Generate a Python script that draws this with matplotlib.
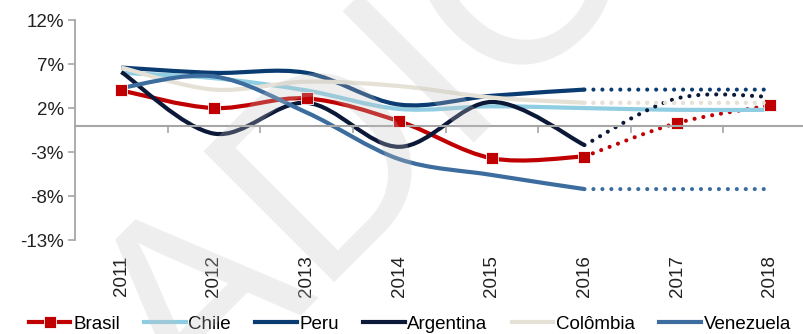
import numpy as np
import matplotlib
matplotlib.use("Agg")
import matplotlib.pyplot as plt
from matplotlib.path import Path
from matplotlib.patches import PathPatch
from matplotlib.lines import Line2D

plt.rcParams['font.family'] = ['Liberation Sans', 'DejaVu Sans']

years = ['2011', '2012', '2013', '2014', '2015', '2016', '2017', '2018']
# realised (solid) and projected (dotted) GDP growth, %
brasil = [4.0, 2.0, 3.1, 0.5, -3.7, -3.5]
brasil_proj = [-3.5, 0.3, 2.3]
chile = [6.0, 5.4, 4.0, 1.9, 2.2, 2.0, 1.8, 1.8]
peru = [6.6, 6.0, 6.0, 2.4, 3.4, 4.1]
peru_proj = [4.1, 4.1, 4.1]
argentina = [6.1, -0.9, 2.6, -2.4, 2.7, -2.2]
argentina_proj = [-2.2, 3.1, 3.3]
colombia = [6.6, 4.1, 5.0, 4.5, 3.2, 2.6]
colombia_proj = [2.6, 2.6, 2.6]
venezuela = [4.3, 5.6, 1.5, -3.8, -5.6, -7.2]
venezuela_proj = [-7.2, -7.2, -7.2]

names = ['Brasil', 'Chile', 'Peru', 'Argentina', 'Colômbia', 'Venezuela']
colors = ['#C00000', '#8FCDE2', '#0A3C72', '#0B1838', '#E6E1D6', '#3C6D9E']

yticks = [-13, -8, -3, 2, 7, 12]


def smooth(xs, ys):
    # excel style smoothed line (catmull-rom -> bezier)
    verts = [(xs[0], ys[0])]
    codes = [Path.MOVETO]
    n = len(xs)
    for i in range(n - 1):
        a = max(i - 1, 0)
        b = min(i + 2, n - 1)
        c1 = (xs[i] + (xs[i + 1] - xs[a]) / 6.0, ys[i] + (ys[i + 1] - ys[a]) / 6.0)
        c2 = (xs[i + 1] - (xs[b] - xs[i]) / 6.0, ys[i + 1] - (ys[b] - ys[i]) / 6.0)
        verts += [c1, c2, (xs[i + 1], ys[i + 1])]
        codes += [Path.CURVE4] * 3
    return Path(verts, codes)


fig = plt.figure(figsize=(8.04, 3.34), dpi=100)
ax = fig.add_axes([0.0933, 0.281, 0.9067, 0.659])
ax.patch.set_alpha(0)

x = np.arange(len(years))
dots = (0, (0.001, 2.15))

series = [
    (brasil, brasil_proj),
    (chile, None),
    (peru, peru_proj),
    (argentina, argentina_proj),
    (colombia, colombia_proj),
    (venezuela, venezuela_proj),
]

for (vals, proj), c in zip(series, colors):
    n = len(vals)
    ax.add_patch(PathPatch(smooth(list(x[:n]), vals), fill=False, edgecolor=c,
                           lw=3, capstyle='butt', joinstyle='round'))
    if proj is not None:
        px = list(x[n - 1:n - 1 + len(proj)])
        ax.add_patch(PathPatch(smooth(px, proj), fill=False, edgecolor=c,
                               lw=3, linestyle=dots, capstyle='round'))

# brasil markers
ax.plot(x[:len(brasil)], brasil, ls='none', marker='s', ms=8, color=colors[0],
        mec='white', mew=0.6, zorder=3)
ax.plot(x[len(brasil):], brasil_proj[1:], ls='none', marker='s', ms=8,
        color=colors[0], mec='white', mew=0.6, zorder=1.5)
# colombia projection again on top of brasil marker
ax.add_patch(PathPatch(smooth(list(x[5:8]), colombia_proj), fill=False,
                       edgecolor=colors[4], lw=3, linestyle=dots,
                       capstyle='round', zorder=2))

ax.set_xlim(-0.5, 7.37)
ax.set_ylim(-13, 12)

for s in ['top', 'right']:
    ax.spines[s].set_visible(False)
ax.spines['left'].set_color('#A6A6A6')
ax.spines['left'].set_linewidth(1.3)
ax.spines['bottom'].set_position(('data', 0))
ax.spines['bottom'].set_color('#A6A6A6')
ax.spines['bottom'].set_linewidth(1.5)

ax.set_yticks(yticks)
ax.set_yticklabels([f'{v}%' for v in yticks])
ax.tick_params(axis='y', direction='out', length=5, width=1.2, color='#A6A6A6',
               labelsize=13.5, labelcolor='#222222', pad=3)
ax.set_xticks(np.arange(0.5, 7.5, 1.0))
ax.set_xticklabels([])
ax.tick_params(axis='x', direction='out', length=5, width=1.2, color='#A6A6A6')

sec = ax.secondary_xaxis(0)
sec.set_xticks(x)
sec.set_xticklabels(years, rotation=90, va='top', ha='center')
sec.tick_params(length=0, pad=11, labelsize=13.5, labelcolor='#222222')
sec.spines['bottom'].set_visible(False)

handles = []
for name, c in zip(names, colors):
    if name == 'Brasil':
        handles.append(Line2D([], [], color=c, lw=3, marker='s', ms=8, mec='white', mew=0.6))
    else:
        handles.append(Line2D([], [], color=c, lw=3))
fig.legend(handles, names, loc='center', bbox_to_anchor=(0.51, 0.03), ncol=6,
           frameon=False, fontsize=13.5, handlelength=2.2, handletextpad=0.15,
           columnspacing=1.3, borderaxespad=0, borderpad=0)

# faint watermark over the chart
fig.text(0.522, 0.413, 'ADIC', rotation=45, rotation_mode='anchor', ha='center',
         va='baseline', fontsize=194, color='#C4C4C4', alpha=0.28, zorder=20)

fig.savefig('out.png', dpi=100)
